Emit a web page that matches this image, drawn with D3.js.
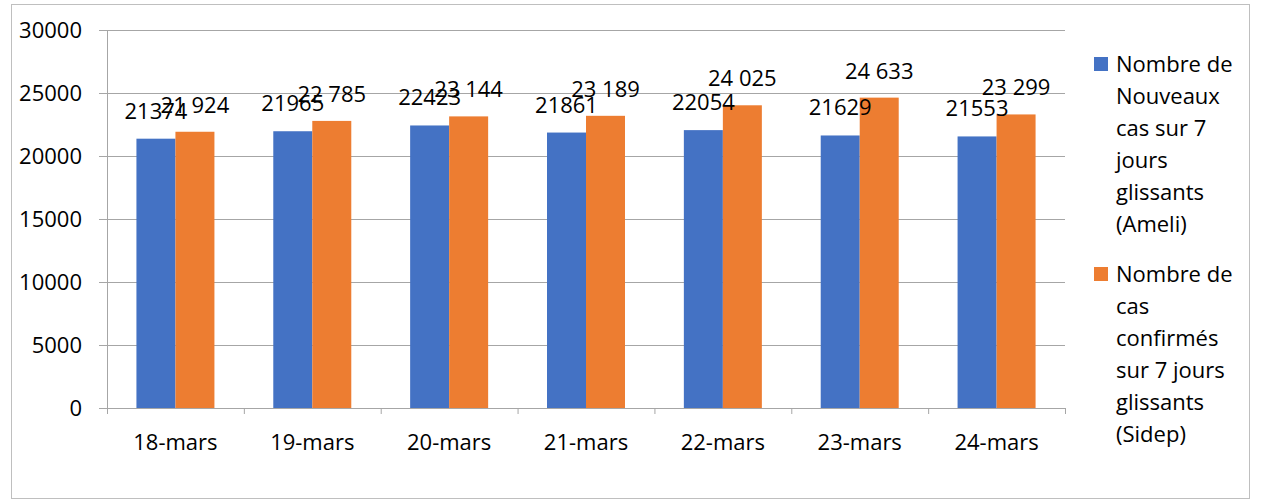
<!DOCTYPE html>
<html>
<head>
<meta charset="utf-8">
<script src="https://cdn.jsdelivr.net/npm/d3@7"></script>
<style>
  body { margin: 0; background: white; }
  text { font-family: "Open Sans", "Noto Sans", sans-serif; fill: #000; font-size: 22px; }
</style>
</head>
<body>
<svg id="chart" width="1261" height="504"></svg>
<script>
// *** Data ***
var categories = ["18-mars", "19-mars", "20-mars", "21-mars", "22-mars", "23-mars", "24-mars"];
var ameliValues = [21374, 21965, 22423, 21861, 22054, 21629, 21553];
var sidepValues = [21924, 22785, 23144, 23189, 24025, 24633, 23299];
var seriesNames = [
    ["Nombre de", "Nouveaux", "cas sur 7", "jours", "glissants", "(Ameli)"],
    ["Nombre de", "cas", "confirmés", "sur 7 jours", "glissants", "(Sidep)"]
];
var yTicks = [0, 5000, 10000, 15000, 20000, 25000, 30000];

var colors = ["#4472c4", "#ed7d31"];

var chart = d3.select("#chart");

// outer frame
chart.append("rect")
    .attr("x", 11.5).attr("y", 4.5)
    .attr("width", 1238).attr("height", 494)
    .attr("fill", "white").attr("stroke", "#bfbfbf");

var margin = {left: 107, top: 30, right: 1065, bottom: 408};

var x = d3.scaleBand().domain(categories).range([margin.left, margin.right]);
var y = d3.scaleLinear().domain([0, 30000]).range([margin.bottom, margin.top]);

// gridlines
chart.append("g").selectAll("line").data(yTicks.filter(d => d > 0)).enter().append("line")
    .attr("x1", margin.left - 8).attr("x2", margin.right)
    .attr("y1", d => y(d) + 0.5).attr("y2", d => y(d) + 0.5)
    .attr("stroke", "#a6a6a6").attr("stroke-width", 1);

// y axis labels
chart.append("g").selectAll("text").data(yTicks).enter().append("text")
    .attr("x", margin.left - 25).attr("y", d => y(d) + 8)
    .attr("text-anchor", "end")
    .text(d => d);

// bars
var groupWidth = x.bandwidth();
var barW = 39;
var inner = d3.scaleBand().domain([0, 1]).range([0, barW * 2]);

var groups = chart.append("g").selectAll("g").data(categories).enter().append("g")
    .attr("transform", d => "translate(" + (x(d) + (groupWidth - barW * 2) / 2) + ",0)");

groups.append("rect")
    .attr("x", inner(0)).attr("width", barW)
    .attr("y", (d, i) => y(ameliValues[i]))
    .attr("height", (d, i) => y(0) - y(ameliValues[i]))
    .attr("fill", colors[0]);

groups.append("rect")
    .attr("x", inner(1)).attr("width", barW)
    .attr("y", (d, i) => y(sidepValues[i]))
    .attr("height", (d, i) => y(0) - y(sidepValues[i]))
    .attr("fill", colors[1]);

// value labels (Sidep values printed with a space as thousands separator)
var spaced = d3.formatLocale({decimal: ",", thousands: " ", grouping: [3], currency: ["", ""]}).format(",d");

groups.append("text")
    .attr("x", inner(0) + barW / 2)
    .attr("y", (d, i) => y(ameliValues[i]) - 20)
    .attr("text-anchor", "middle")
    .text((d, i) => ameliValues[i]);

groups.append("text")
    .attr("x", inner(1) + barW / 2)
    .attr("y", (d, i) => y(sidepValues[i]) - 19)
    .attr("text-anchor", "middle")
    .text((d, i) => spaced(sidepValues[i]));

// x axis
chart.append("line")
    .attr("x1", margin.left - 8).attr("x2", margin.right)
    .attr("y1", y(0) + 0.5).attr("y2", y(0) + 0.5)
    .attr("stroke", "#a6a6a6");
chart.append("line")
    .attr("x1", margin.left + 0.5).attr("x2", margin.left + 0.5)
    .attr("y1", margin.top).attr("y2", y(0) + 6)
    .attr("stroke", "#a6a6a6");
chart.append("g").selectAll("line").data(categories).enter().append("line")
    .attr("x1", d => x(d) + groupWidth + 0.5).attr("x2", d => x(d) + groupWidth + 0.5)
    .attr("y1", y(0)).attr("y2", y(0) + 6)
    .attr("stroke", "#a6a6a6");

chart.append("g").selectAll("text").data(categories).enter().append("text")
    .attr("x", d => x(d) + groupWidth / 2)
    .attr("y", y(0) + 42)
    .attr("text-anchor", "middle")
    .text(d => d);

// legend
var legendTop = [72, 282];
seriesNames.forEach(function(lines, s) {
    var lg = chart.append("g").attr("transform", "translate(1094," + legendTop[s] + ")");
    lg.append("rect").attr("x", 0).attr("y", -15).attr("width", 14).attr("height", 14).attr("fill", colors[s]);
    lg.selectAll("text").data(lines).enter().append("text")
        .attr("x", 22).attr("y", (d, i) => i * 32)
        .text(d => d);
});
</script>
</body>
</html>
